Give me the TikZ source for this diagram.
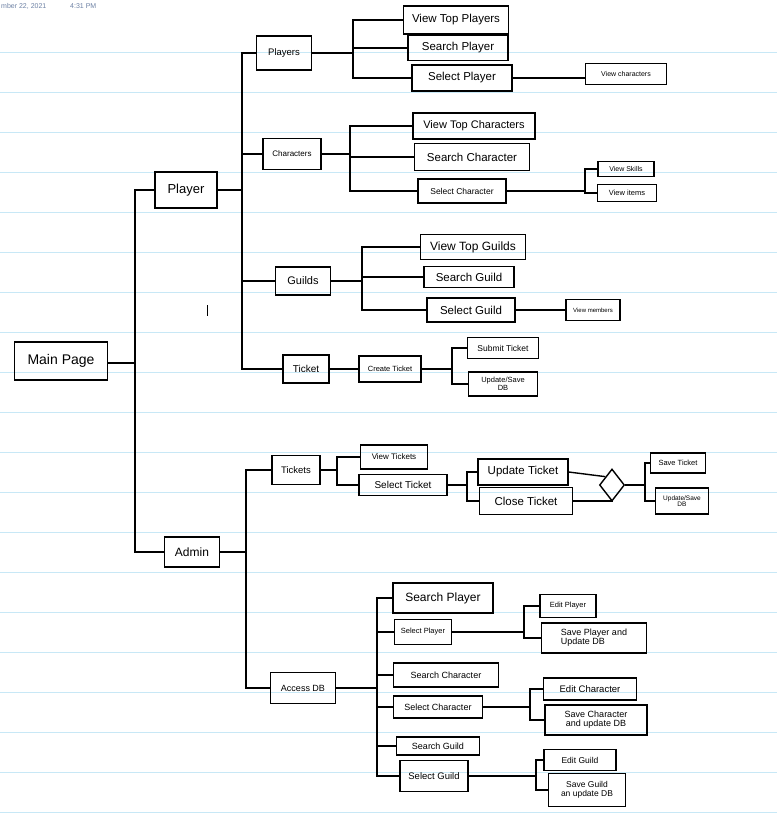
\documentclass[tikz,border=0pt]{standalone}
\usepackage{fontspec}
\setmainfont{Liberation Sans}
\usetikzlibrary{shapes.geometric}

\definecolor{ruled}{RGB}{200,232,246}
\definecolor{stamp}{RGB}{110,130,165}

\begin{document}
\begin{tikzpicture}[x=1pt,y=-1pt,
	box/.style={draw, line width=1.4pt, inner sep=1pt, align=center},
	sz/.style 2 args={minimum width=#1, minimum height=#2},
	fs/.style={font=\fontsize{#1}{#1}\selectfont},
	link/.style={line width=1.4pt}]
	
	% paper
	\fill[white] (0,0) rectangle (777,820);
	\useasboundingbox (0,0) rectangle (777,820);
	\foreach \y in {52,92,...,812}
		\draw[ruled, line width=1pt] (0,\y) -- (777,\y);
	\node[anchor=base west, inner sep=0pt, fs=7, text=stamp] (date) at (1,8) {mber 22, 2021};
	\node[anchor=base west, inner sep=0pt, fs=7, text=stamp] (time) at (70,8) {4:31 PM};
	\draw[line width=0.8pt] (207,305) -- (207,316);
	
	% main page
	\node[box, sz={93}{38}, fs=14] (main) at (61,361) {Main Page};
	\node[box, sz={62}{36}, fs=13] (player) at (186,190) {Player};
	\node[box, sz={55}{30}, fs=12] (admin) at (192,552) {Admin};
	\coordinate (b0) at (135,363);
	\draw[link] (main.east |- b0) -- (b0);
	\foreach \c in {player,admin} \draw[link] (\c.west) -| (b0);
	
	% player side
	\node[box, sz={55}{34}, fs=9.5] (players) at (284,53) {Players};
	\node[box, sz={58}{31}, fs=8] (chars) at (292,154) {Characters};
	\node[box, sz={55}{28}, fs=11] (guilds) at (303,281) {Guilds};
	\node[box, sz={46}{28}, fs=10] (ticket) at (306,369) {Ticket};
	\coordinate (b1) at (242,190);
	\draw[link] (player.east) -- (b1);
	\foreach \c in {players,chars,guilds,ticket} \draw[link] (\c.west) -| (b1);
	
	\node[box, sz={105}{28}, fs=11.5] (vtp) at (456,20) {View Top Players};
	\node[box, sz={100}{25}, fs=11.5] (sp) at (458,48) {Search Player};
	\node[box, sz={100}{26}, fs=11.5] (slp) at (462,78) {Select Player};
	\node[box, sz={81}{21}, fs=7] (vc) at (626,74) {View characters};
	\coordinate (b2) at (353,53);
	\draw[link] (players.east) -- (b2);
	\foreach \c in {vtp,sp,slp} \draw[link] (\c.west) -| (b2);
	\draw[link] (slp.east) -- (slp.east -| vc.west);
	
	\node[box, sz={122}{26}, fs=11] (vtc) at (474,126) {View Top Characters};
	\node[box, sz={115}{27}, fs=11.5] (sc) at (472,157) {Search Character};
	\node[box, sz={88}{24}, fs=8.5] (slc) at (462,191) {Select Character};
	\node[box, sz={56}{15}, fs=7] (vs) at (626,169) {View Skills};
	\node[box, sz={59}{17}, fs=7.5] (vi) at (627,193) {View items};
	\coordinate (b3) at (350,154);
	\draw[link] (chars.east) -- (b3);
	\foreach \c in {vtc,sc,slc} \draw[link] (\c.west) -| (b3);
	\coordinate (b4) at (585,191);
	\draw[link] (slc.east) -- (b4);
	\foreach \c in {vs,vi} \draw[link] (\c.west) -| (b4);
	
	\node[box, sz={105}{25}, fs=12] (vtg) at (473,247) {View Top Guilds};
	\node[box, sz={90}{21}, fs=11.5] (sg) at (469,277) {Search Guild};
	\node[box, sz={88}{24}, fs=11.5] (slg) at (471,310) {Select Guild};
	\node[box, sz={54}{21}, fs=6] (vm) at (593,310) {View members};
	\coordinate (b5) at (362,281);
	\draw[link] (guilds.east) -- (b5);
	\foreach \c in {vtg,sg,slg} \draw[link] (\c.west) -| (b5);
	\draw[link] (slg.east) -- (vm.west);
	
	\node[box, sz={62}{26}, fs=7.5] (create) at (390,369) {Create Ticket};
	\node[box, sz={71}{21}, fs=8.5] (submit) at (503,348) {Submit Ticket};
	\node[box, sz={69}{24}, fs=7.5] (upsave) at (503,384) {Update/Save\\DB};
	\draw[link] (ticket.east) -- (create.west);
	\coordinate (b6) at (452,369);
	\draw[link] (create.east) -- (b6);
	\foreach \c in {submit,upsave} \draw[link] (\c.west) -| (b6);
	
	% admin side
	\node[box, sz={48}{29}, fs=9.5] (tickets) at (296,470) {Tickets};
	\node[box, sz={65}{31}, fs=9] (access) at (303,688) {Access DB};
	\coordinate (b7) at (246,552);
	\draw[link] (admin.east) -- (b7);
	\foreach \c in {tickets,access} \draw[link] (\c.west) -| (b7);
	
	\node[box, sz={67}{24}, fs=8] (vt) at (394,457) {View Tickets};
	\node[box, sz={88}{21}, fs=10] (st) at (403,485) {Select Ticket};
	\coordinate (b8) at (337,470);
	\draw[link] (tickets.east) -- (b8);
	\foreach \c in {vt,st} \draw[link] (\c.west) -| (b8);
	
	\node[box, sz={90}{26}, fs=11.5] (ut) at (523,472) {Update Ticket};
	\node[box, sz={93}{27}, fs=11.5] (ct) at (526,501) {Close Ticket};
	\coordinate (b9) at (467,485);
	\draw[link] (st.east) -- (b9);
	\foreach \c in {ut,ct} \draw[link] (\c.west) -| (b9);
	
	\node[draw, diamond, line width=1.4pt, inner sep=0pt, minimum width=25, minimum height=32] (dia) at (612,485) {};
	\draw[link] (ut.east) -- (dia.north west);
	\draw[link] (ct.east) -| (dia.south);
	\node[box, sz={55}{20}, fs=7.5] (savet) at (678,463) {Save Ticket};
	\node[box, sz={53}{26}, fs=6.5] (upsave2) at (682,501) {Update/Save\\DB};
	\coordinate (b10) at (645,485);
	\draw[link] (dia.east) -- (b10);
	\foreach \c in {savet,upsave2} \draw[link] (\c.west) -| (b10);
	
	\node[box, sz={100}{30}, fs=12] (asp) at (443,598) {Search Player};
	\node[box, sz={57}{25}, fs=7.5] (aslp) at (423,632) {Select Player};
	\node[box, sz={105}{24}, fs=9] (asc) at (446,675) {Search Character};
	\node[box, sz={89}{22}, fs=9] (aslc) at (438,707) {Select Character};
	\node[box, sz={83}{18}, fs=9] (asg) at (438,746) {Search Guild};
	\node[box, sz={68}{31}, fs=9.5] (aslg) at (434,776) {Select Guild};
	\coordinate (b11) at (377,688);
	\draw[link] (access.east) -- (b11);
	\foreach \c in {asp,aslp,asc,aslc,asg,aslg} \draw[link] (\c.west) -| (b11);
	
	\node[box, sz={56}{23}, fs=7.5] (ep) at (568,606) {Edit Player};
	\node[box, sz={105}{30}, fs=9, align=left] (spd) at (594,638) {Save Player and\\Update DB};
	\coordinate (b12) at (524,632);
	\draw[link] (aslp.east) -- (b12);
	\foreach \c in {ep,spd} \draw[link] (\c.west) -| (b12);
	
	\node[box, sz={93}{22}, fs=9.5] (ec) at (590,689) {Edit Character};
	\node[box, sz={102}{30}, fs=9] (scd) at (596,720) {Save Character\\and update DB};
	\coordinate (b13) at (530,707);
	\draw[link] (aslc.east) -- (b13);
	\foreach \c in {ec,scd} \draw[link] (\c.west) -| (b13);
	
	\node[box, sz={72}{21}, fs=8.5] (eg) at (580,760) {Edit Guild};
	\node[box, sz={77}{33}, fs=8.5] (sgd) at (587,790) {Save Guild\\an update DB};
	\coordinate (b14) at (536,776);
	\draw[link] (aslg.east) -- (b14);
	\foreach \c in {eg,sgd} \draw[link] (\c.west) -| (b14);
	
\end{tikzpicture}
\end{document}
